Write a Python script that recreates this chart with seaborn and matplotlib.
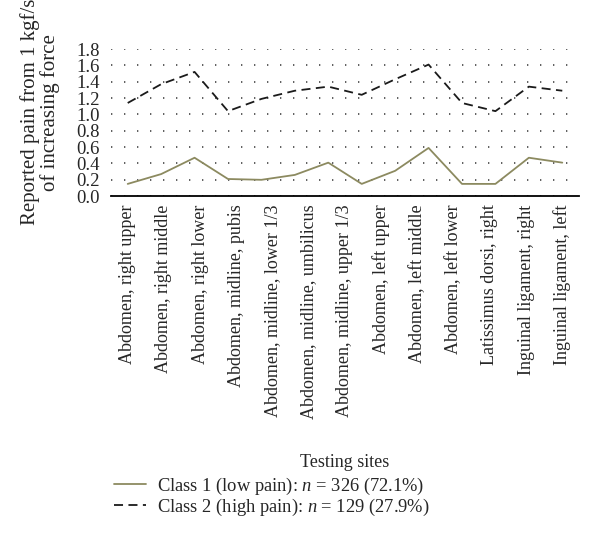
import numpy as np
import pandas as pd
import matplotlib
matplotlib.use('Agg')
import matplotlib.pyplot as plt
import seaborn as sns

# Data
sites = ['Abdomen, right upper', 'Abdomen, right middle', 'Abdomen, right lower',
         'Abdomen, midline, pubis', 'Abdomen, midline, lower 1/3',
         'Abdomen, midline, umbilicus', 'Abdomen, midline, upper 1/3',
         'Abdomen, left upper', 'Abdomen, left middle', 'Abdomen, left lower',
         'Latissimus dorsi, right', 'Inguinal ligament, right',
         'Inguinal ligament, left']
class1 = [0.15, 0.27, 0.47, 0.21, 0.20, 0.26, 0.41, 0.15, 0.31, 0.59, 0.15, 0.15, 0.47, 0.41]
class2 = [1.14, 1.37, 1.52, 1.04, 1.19, 1.29, 1.34, 1.24, 1.43, 1.61, 1.14, 1.04, 1.34, 1.29]
class_labels = ['Class 1 (low pain): $n$ = 326 (72.1%)',
                'Class 2 (high pain): $n$ = 129 (27.9%)']
yticks = [0.0, 0.2, 0.4, 0.6, 0.8, 1.0, 1.2, 1.4, 1.6, 1.8]

n_pts = len(class1)
df = pd.DataFrame({
    'pos': list(range(n_pts)) * 2,
    'pain': class1 + class2,
    'cls': [class_labels[0]] * n_pts + [class_labels[1]] * n_pts,
})

sns.set_style('white')
plt.rcParams['font.family'] = ['Liberation Serif', 'DejaVu Serif']
plt.rcParams['mathtext.fontset'] = 'custom'
plt.rcParams['mathtext.rm'] = 'Liberation Serif'
plt.rcParams['mathtext.it'] = 'Liberation Serif:italic'

fig = plt.figure(figsize=(6, 5.51), dpi=100)
ax = fig.add_axes([0.185, 0.644, 0.78, 0.267])

sns.lineplot(data=df, x='pos', y='pain', hue='cls', style='cls',
             palette={class_labels[0]: '#8c8a60', class_labels[1]: '#1a1a1a'},
             dashes={class_labels[0]: '', class_labels[1]: (5, 3)},
             linewidth=1.3, legend=False, ax=ax)

ax.set_xlim(-0.5, n_pts - 0.5)
ax.set_ylim(0, 1.8)
ax.set_yticks(yticks)
ax.set_yticklabels([f'{v:.1f}' for v in yticks], fontsize=13.5)
ax.yaxis.grid(True, linestyle=(0, (0.8, 7)), color='#444444', linewidth=1.2)
ax.xaxis.grid(False)

# boundary ticks on x axis, labels on minor ticks
ax.xaxis.remove_overlapping_locs = False
ax.set_xticks(np.arange(-0.5, n_pts, 1.0))
ax.set_xticklabels([])
ax.set_xticks(np.linspace(0, n_pts - 1, len(sites)), minor=True)
ax.set_xticklabels(sites, minor=True, rotation=90, fontsize=13)
ax.tick_params(axis='x', which='major', direction='out', length=5, width=1, color='black')
ax.tick_params(axis='x', which='minor', length=0, pad=6)
ax.tick_params(axis='y', direction='out', length=4, width=1, color='black', pad=4)

for s in ['top', 'right', 'left']:
    ax.spines[s].set_visible(False)
ax.spines['bottom'].set_color('black')
ax.spines['bottom'].set_linewidth(1.3)

ax.set_ylabel('Reported pain from 1 kgf/s\nof increasing force', fontsize=15,
              linespacing=0.95)
ax.yaxis.set_label_coords(-0.11, 0.57)
ax.set_xlabel('Testing sites', fontsize=13)
ax.xaxis.set_label_coords(0.5, -1.75)

handles = ax.get_lines()[:2]
fig.legend(handles, class_labels, loc='upper left', bbox_to_anchor=(0.178, 0.15),
           frameon=False, fontsize=13.3, handlelength=1.7, handletextpad=0.6,
           labelspacing=0.0, borderaxespad=0)

plt.savefig('out.png', dpi=100)
